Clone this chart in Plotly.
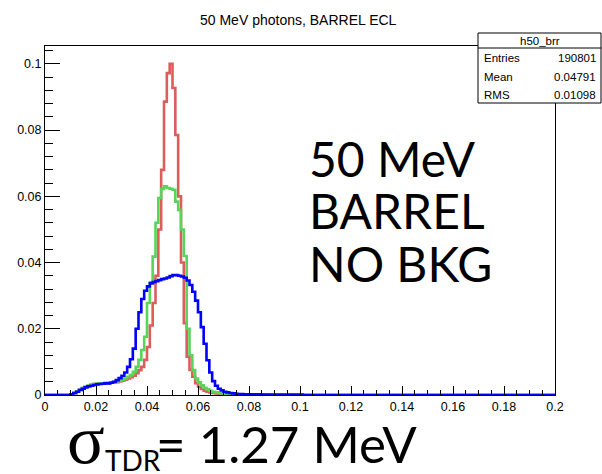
import numpy as np
import plotly.graph_objects as go

# ---------------- data ----------------
N_BINS = 180
X_MIN, X_MAX = 0.0, 0.2
FIRST_BIN = 8  # index of the first listed bin value

red_vals = [0, 0.0002, 0.0006, 0.0011, 0.0016, 0.0021, 0.0025, 0.0028, 0.0031, 0.0033,
            0.0034, 0.0035, 0.0035, 0.0036, 0.0036, 0.0037, 0.0038, 0.0039, 0.0041, 0.0043,
            0.0046, 0.0050, 0.0054, 0.0058, 0.0066, 0.0075, 0.0085, 0.0106, 0.0145, 0.0210,
            0.0278, 0.0360, 0.0500, 0.0680, 0.0886, 0.0972, 0.1000, 0.0927, 0.0785, 0.0600,
            0.0400, 0.0217, 0.0116, 0.0076, 0.0055, 0.0036, 0.0025, 0.0018, 0.0013, 0.0010,
            0.0008, 0.0006, 0.0005, 0.0004, 0.0003, 0.0002, 0.0002, 0.0002, 0.0002, 0.0001,
            0.0001, 0.0001, 0.0001, 0.0001, 0.0001, 0.0001, 0.0001, 0.0001]

green_vals = [0, 0.0002, 0.0006, 0.0011, 0.0016, 0.0021, 0.0025, 0.0028, 0.0031, 0.0033,
              0.0034, 0.0035, 0.0035, 0.0036, 0.0037, 0.0038, 0.0039, 0.0041, 0.0043, 0.0046,
              0.0050, 0.0055, 0.0060, 0.0070, 0.0085, 0.0106, 0.0136, 0.0176, 0.0278, 0.0340,
              0.0418, 0.0520, 0.0595, 0.0622, 0.0630, 0.0625, 0.0623, 0.0620, 0.0584, 0.0559,
              0.0500, 0.0420, 0.0200, 0.0120, 0.0075, 0.0050, 0.0038, 0.0029, 0.0022, 0.0017,
              0.0013, 0.0010, 0.0008, 0.0006, 0.0005, 0.0004, 0.0003, 0.0002, 0.0002, 0.0002,
              0.0002, 0.0001, 0.0001, 0.0001, 0.0001, 0.0001, 0.0001, 0.0001, 0.0001, 0.0001,
              0.0001]

blue_vals = [0, 0.0002, 0.0006, 0.0010, 0.0015, 0.0019, 0.0023, 0.0026, 0.0028, 0.0030,
             0.0032, 0.0033, 0.0034, 0.0035, 0.0035, 0.0037, 0.0040, 0.0045, 0.0051, 0.0058,
             0.0068, 0.0085, 0.0108, 0.0140, 0.0200, 0.0250, 0.0290, 0.0315, 0.0328, 0.0337,
             0.0341, 0.0344, 0.0347, 0.0350, 0.0352, 0.0355, 0.0359, 0.0362, 0.0362, 0.0360,
             0.0358, 0.0354, 0.0346, 0.0332, 0.0312, 0.0285, 0.0250, 0.0205, 0.0155, 0.0105,
             0.0068, 0.0042, 0.0028, 0.0019, 0.0014, 0.0010, 0.0008, 0.0006, 0.0005, 0.0004,
             0.0003, 0.0003, 0.0002, 0.0002, 0.0002, 0.0002, 0.0002, 0.0002, 0.0001, 0.0001,
             0.0001, 0.0001, 0.0001, 0.0001, 0.0001, 0.0001, 0.0001, 0.0001, 0.0001, 0.0001,
             0.0001, 0.0001, 0.0001]

x_tick_vals = [0, 0.02, 0.04, 0.06, 0.08, 0.1, 0.12, 0.14, 0.16, 0.18, 0.2]
x_tick_text = ["0", "0.02", "0.04", "0.06", "0.08", "0.1", "0.12", "0.14", "0.16", "0.18", "0.2"]
y_tick_vals = [0, 0.02, 0.04, 0.06, 0.08, 0.1]
y_tick_text = ["0", "0.02", "0.04", "0.06", "0.08", "0.1"]

title_text = "50 MeV photons, BARREL ECL"
stats_name = "h50_brr"
stats_labels = ["Entries", "Mean", "RMS"]
stats_values = ["190801", "0.04791", "0.01098"]
big_lines = ["50 MeV", "BARREL", "NO BKG"]
sigma_symbol = "σ"
sigma_sub = "TDR"
sigma_rest = "= 1.27 MeV"

# ---------------- figure ----------------
W, H = 602, 474
L, R, T, B = 45, 47, 46, 79
plot_w = W - L - R
plot_h = H - T - B
Y_MAX = 0.1054

def px(xp):
    return (xp - L) / plot_w

def py(yp):
    return (H - B - yp) / plot_h

edges = np.linspace(X_MIN, X_MAX, N_BINS + 1)

def full(vals):
    arr = np.zeros(N_BINS)
    arr[FIRST_BIN:FIRST_BIN + len(vals)] = vals
    return arr

fig = go.Figure()
for vals, col in [(red_vals, "#dd5c5c"), (green_vals, "#58d458"), (blue_vals, "#0000ff")]:
    y = full(vals)
    fig.add_trace(go.Scatter(
        x=edges, y=np.append(y, y[-1]), mode="lines",
        line=dict(color=col, width=2.6, shape="hv"),
        hoverinfo="skip", showlegend=False))

axis_font = dict(family="Liberation Sans, Arial, sans-serif", size=12.5, color="black")
fig.update_layout(
    width=W, height=H, autosize=False,
    margin=dict(l=L, r=R, t=T, b=B),
    paper_bgcolor="white", plot_bgcolor="white",
    showlegend=False,
    xaxis=dict(range=[X_MIN, X_MAX], tickmode="array", tickvals=x_tick_vals, ticktext=x_tick_text,
               ticks="inside", ticklen=9, tickwidth=1, tickcolor="black",
               showline=True, linecolor="black", linewidth=1, mirror=True,
               showgrid=False, zeroline=False, tickfont=axis_font,
               minor=dict(ticks="inside", ticklen=5, tickcolor="black", tickmode="linear",
                          tick0=0, dtick=0.005, showgrid=False)),
    yaxis=dict(range=[0, Y_MAX], tickmode="array", tickvals=y_tick_vals, ticktext=y_tick_text,
               ticks="inside", ticklen=15, tickwidth=1, tickcolor="black",
               showline=True, linecolor="black", linewidth=1, mirror=True,
               showgrid=False, zeroline=False, tickfont=axis_font,
               minor=dict(ticks="inside", ticklen=8, tickcolor="black", tickmode="linear",
                          tick0=0, dtick=0.004, showgrid=False)),
)

# title
fig.add_annotation(text=title_text, xref="paper", yref="paper", x=px(298), y=py(20),
                   showarrow=False, xanchor="center", yanchor="middle",
                   font=dict(family="Liberation Sans, Arial, sans-serif", size=14, color="black"))

# stats box
fig.add_shape(type="rect", xref="paper", yref="paper",
              x0=px(478), x1=px(601), y0=py(103), y1=py(33),
              line=dict(color="black", width=1), fillcolor="white", layer="above")
fig.add_shape(type="line", xref="paper", yref="paper",
              x0=px(478), x1=px(601), y0=py(48), y1=py(48),
              line=dict(color="black", width=1), layer="above")
stat_font = dict(family="Liberation Sans, Arial, sans-serif", size=11.5, color="black")
fig.add_annotation(text=stats_name, xref="paper", yref="paper", x=px(540), y=py(41),
                   showarrow=False, xanchor="center", yanchor="middle", font=stat_font)
for i, (lab, val) in enumerate(zip(stats_labels, stats_values)):
    yy = py(58 + 18.5 * i)
    fig.add_annotation(text=lab, xref="paper", yref="paper", x=px(482), y=yy,
                       showarrow=False, xanchor="left", yanchor="middle", font=stat_font)
    fig.add_annotation(text=val, xref="paper", yref="paper", x=px(598), y=yy,
                       showarrow=False, xanchor="right", yanchor="middle", font=stat_font)

# big text
big_font = dict(family="Lato, sans-serif", size=48, color="black")
for i, line in enumerate(big_lines):
    fig.add_annotation(text=line, xref="paper", yref="paper", x=px(307), y=py(158 + 52.5 * i),
                       showarrow=False, xanchor="left", yanchor="middle", font=big_font)

# sigma text, in three pieces
fig.add_annotation(text=sigma_symbol, xref="paper", yref="paper", x=px(65), y=py(439),
                   showarrow=False, xanchor="left", yanchor="middle",
                   font=dict(family="Liberation Serif, serif", size=70, color="black"))
fig.add_annotation(text=sigma_sub, xref="paper", yref="paper", x=px(103), y=py(460),
                   showarrow=False, xanchor="left", yanchor="middle",
                   font=dict(family="Lato, sans-serif", size=28, color="black"))
fig.add_annotation(text=sigma_rest, xref="paper", yref="paper", x=px(154), y=py(443),
                   showarrow=False, xanchor="left", yanchor="middle",
                   font=dict(family="Lato, sans-serif", size=51, color="black"))

fig.write_html("out.html", config={"displayModeBar": False},
               post_script="document.body.style.margin='0';document.body.style.overflow='hidden';")
